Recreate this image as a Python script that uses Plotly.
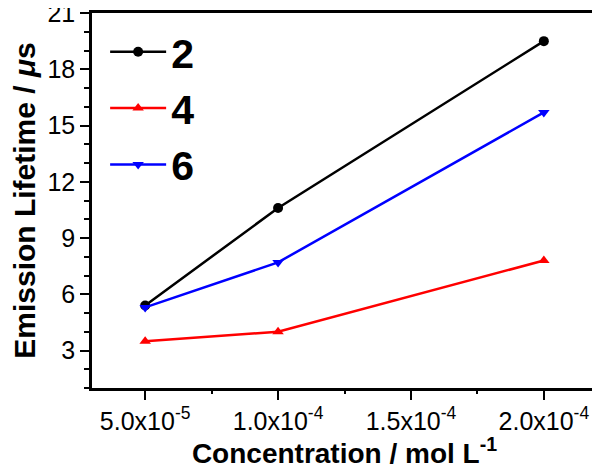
import plotly.graph_objects as go

conc = [5.0e-5, 1.0e-4, 2.0e-4]
life_2 = [5.4, 10.6, 19.5]
life_4 = [3.5, 4.0, 7.8]
life_6 = [5.3, 7.7, 15.7]
x_tickvals = [5.0e-5, 1.0e-4, 1.5e-4, 2.0e-4]
x_ticktext = ["5.0x10<sup>-5</sup>", "1.0x10<sup>-4</sup>", "1.5x10<sup>-4</sup>", "2.0x10<sup>-4</sup>"]
x_minor = [7.5e-5, 1.25e-4, 1.75e-4]
y_tickvals = [3, 6, 9, 12, 15, 18, 21]
x_range = [3.0e-5, 2.2e-4]
y_range = [1, 21]

fig = go.Figure()
series = [("2", life_2, "black", "circle"),
          ("4", life_4, "red", "triangle-up"),
          ("6", life_6, "blue", "triangle-down")]
for name, ys, col, sym in series:
    fig.add_trace(go.Scatter(x=conc, y=ys, name=name, mode="lines+markers",
                             line=dict(color=col, width=2.5),
                             marker=dict(color=col, symbol=sym, size=10)))
# invisible trace to activate the minor-tick overlay axis
fig.add_trace(go.Scatter(x=[x_range[0]], y=[y_range[0]], xaxis="x2", yaxis="y",
                         mode="markers", marker=dict(opacity=0), showlegend=False,
                         hoverinfo="skip"))

font = "Liberation Sans, Arial, sans-serif"
# page body has an 8px default margin, so the figure is sized 8px smaller
fig.update_layout(
    width=592, height=461,
    margin=dict(l=84, r=3, t=5, b=81),
    plot_bgcolor="white", paper_bgcolor="white",
    font=dict(family=font, color="black"),
    showlegend=True,
    legend=dict(x=0.026, y=0.985, xanchor="left", yanchor="top",
                font=dict(size=41, family=font, weight="bold"),
                bgcolor="rgba(0,0,0,0)", itemwidth=56, tracegroupgap=0),
    xaxis=dict(range=x_range, tickvals=x_tickvals, ticktext=x_ticktext,
               ticks="outside", ticklen=9, tickwidth=2, tickcolor="black",
               showline=True, linewidth=2.5, linecolor="black", mirror=True,
               showgrid=False, zeroline=False, automargin=False,
               ticklabeloverflow="allow",
               tickfont=dict(size=25, family=font),
               title=dict(text="<b>Concentration / mol L<sup>-1</sup></b>",
                          font=dict(size=28, family=font), standoff=6)),
    xaxis2=dict(range=x_range, overlaying="x", side="bottom", tickvals=x_minor,
                ticks="outside", ticklen=5, tickwidth=2, tickcolor="black",
                showticklabels=False, showline=False, showgrid=False, zeroline=False,
                automargin=False),
    yaxis=dict(range=y_range, tickvals=y_tickvals,
               ticks="outside", ticklen=9, tickwidth=2, tickcolor="black",
               showline=True, linewidth=2.5, linecolor="black", mirror=True,
               showgrid=False, zeroline=False, automargin=False,
               ticklabeloverflow="allow",
               tickfont=dict(size=25, family=font),
               minor=dict(dtick=1, tick0=0, ticks="outside", ticklen=5, tickwidth=2, tickcolor="black"),
               title=dict(text="<b>Emission Lifetime / <i>μ</i>s</b>",
                          font=dict(size=30, family=font), standoff=14)),
)
fig.write_html("out.html")
